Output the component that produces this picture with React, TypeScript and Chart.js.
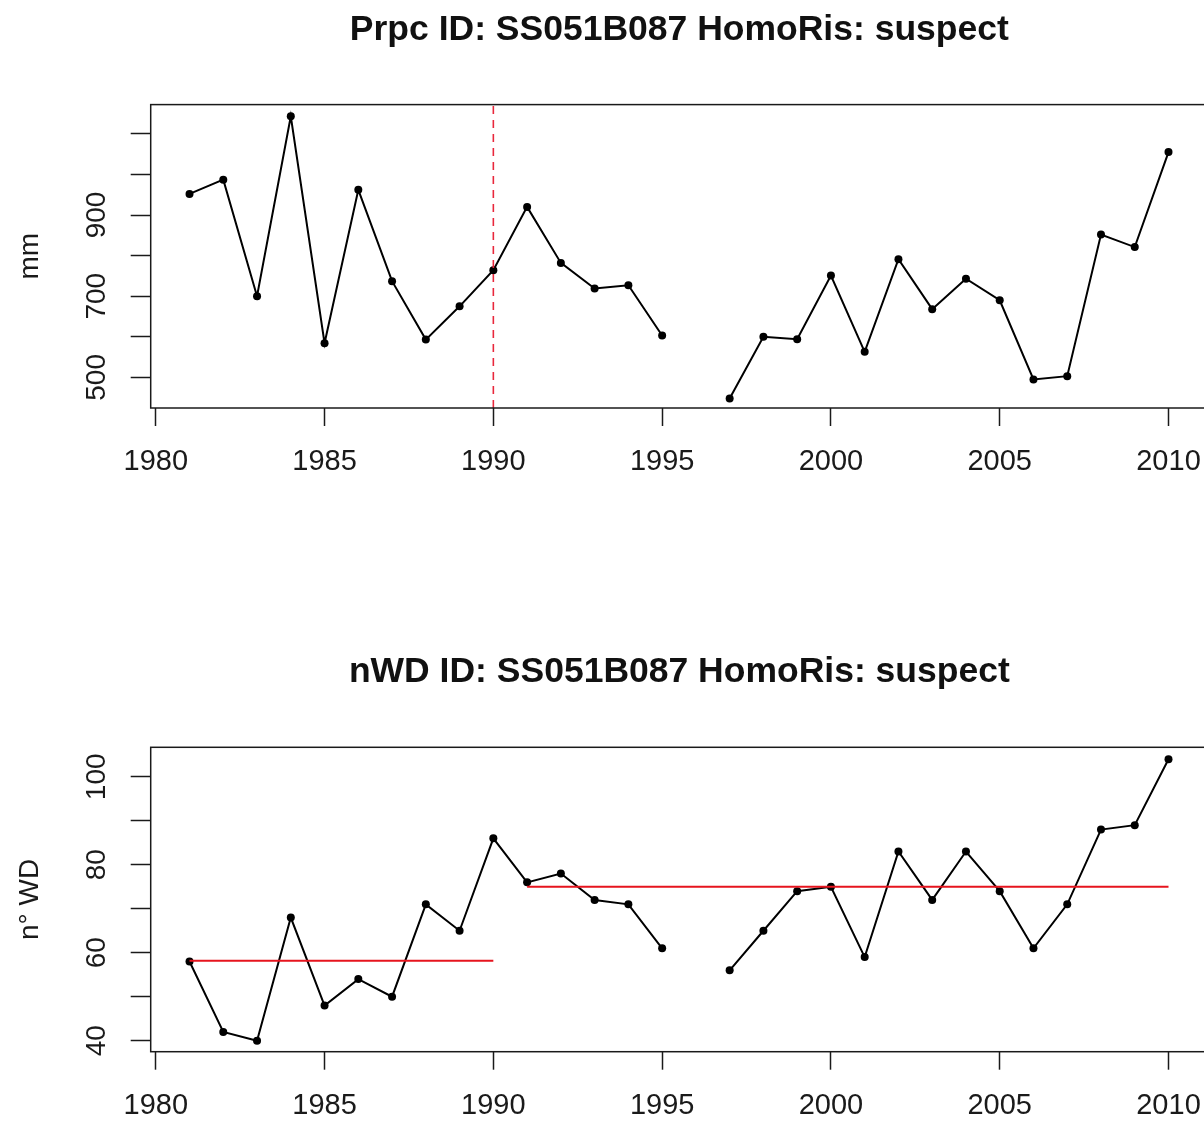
import React, { useEffect, useRef } from 'react';
import { Chart, registerables } from 'chart.js';

Chart.register(...registerables);

// ---------- data ----------
const years = [
  1981, 1982, 1983, 1984, 1985, 1986, 1987, 1988, 1989, 1990,
  1991, 1992, 1993, 1994, 1995, 1996, 1997, 1998, 1999, 2000,
  2001, 2002, 2003, 2004, 2005, 2006, 2007, 2008, 2009, 2010,
];
const prpcValues: (number | null)[] = [
  952, 987, 700, 1143, 584, 962, 737, 593, 675, 764,
  920, 782, 719, 727, 603, null, 448, 600, 594, 751,
  563, 791, 668, 743, 690, 495, 503, 852, 821, 1055,
];
const nwdValues: (number | null)[] = [
  58, 42, 40, 68, 48, 54, 50, 71, 65, 86,
  76, 78, 72, 71, 61, null, 56, 65, 74, 75,
  59, 83, 72, 83, 74, 61, 71, 88, 89, 104,
];
const xTicks = [1980, 1985, 1990, 1995, 2000, 2005, 2010];
const prpcYTicks = [500, 600, 700, 800, 900, 1000, 1100];
const prpcYLabels = [500, 700, 900];
const nwdYTicks = [40, 50, 60, 70, 80, 90, 100];
const nwdYLabels = [40, 60, 80, 100];
const breakYears = [1990];
const segmentStarts = [1981, 1991];
const segmentEnds = [1990, 2010];
const segmentLevels = [58.2, 75];

const FONT = '"Liberation Sans", Arial, Helvetica, sans-serif';
const INK = '#1a1a1a';

const rFrame = {
  id: 'rFrame',
  afterDraw(chart: any, _args: any, opts: any) {
    const { ctx, chartArea: a } = chart;
    ctx.save();
    ctx.strokeStyle = INK;
    ctx.lineWidth = 1.5;
    ctx.strokeRect(a.left, a.top, a.right - a.left, a.bottom - a.top);
    const ys = chart.scales.y;
    ctx.fillStyle = INK;
    ctx.font = `28px ${FONT}`;
    ctx.textAlign = 'center';
    ctx.textBaseline = 'middle';
    for (const v of opts.labels as number[]) {
      const py = ys.getPixelForValue(v);
      ctx.save();
      ctx.translate(97, py);
      ctx.rotate(-Math.PI / 2);
      ctx.fillText(String(v), 0, 0);
      ctx.restore();
    }
    ctx.save();
    ctx.translate(30, (a.top + a.bottom) / 2);
    ctx.rotate(-Math.PI / 2);
    ctx.fillText(opts.yTitle, 0, 0);
    ctx.restore();
    ctx.restore();
  },
};

type Params = {
  height: number;
  title: string;
  padTop: number;
  padBottom: number;
  xScaleHeight: number;
  yMin: number;
  yMax: number;
  yTicks: number[];
  yLabels: number[];
  yTitle: string;
  values: (number | null)[];
  extra: any[];
};

function makeConfig(p: Params): any {
  const points = years.map((yr, i) => ({ x: yr, y: p.values[i] }));
  return {
    type: 'line',
    data: {
      datasets: [
        ...p.extra,
        {
          data: points,
          borderColor: '#000',
          backgroundColor: '#000',
          borderWidth: 2,
          pointRadius: 4,
          pointBorderWidth: 0,
          pointBackgroundColor: '#000',
          spanGaps: false,
          tension: 0,
        },
      ],
    },
    options: {
      animation: false,
      responsive: false,
      maintainAspectRatio: false,
      devicePixelRatio: 1,
      layout: { padding: 0, autoPadding: false },
      plugins: {
        legend: { display: false },
        tooltip: { enabled: false },
        title: {
          display: true,
          text: p.title,
          fullSize: false,
          color: '#111',
          font: { family: FONT, size: 35.5, weight: 'bold' },
          padding: { top: p.padTop, bottom: p.padBottom },
        },
        rFrame: { labels: p.yLabels, yTitle: p.yTitle },
      },
      scales: {
        x: {
          type: 'linear',
          min: 1979.85,
          max: 2011.17,
          afterBuildTicks: (s: any) => {
            s.ticks = xTicks.map((v) => ({ value: v }));
          },
          afterFit: (s: any) => {
            s.height = p.xScaleHeight;
            s.paddingLeft = 0;
            s.paddingRight = 0;
          },
          border: { display: false },
          grid: {
            display: true,
            drawOnChartArea: false,
            drawTicks: true,
            tickLength: 18,
            tickColor: INK,
            tickWidth: 1.5,
            color: INK,
          },
          ticks: {
            color: INK,
            padding: 19,
            maxRotation: 0,
            autoSkip: false,
            font: { family: FONT, size: 29 },
            callback: (v: any) => String(v),
          },
        },
        y: {
          type: 'linear',
          min: p.yMin,
          max: p.yMax,
          afterBuildTicks: (s: any) => {
            s.ticks = p.yTicks.map((v) => ({ value: v }));
          },
          afterFit: (s: any) => {
            s.width = 150.7;
            s.paddingTop = 0;
            s.paddingBottom = 0;
          },
          border: { display: false },
          grid: {
            display: true,
            drawOnChartArea: false,
            drawTicks: true,
            tickLength: 20,
            tickColor: INK,
            tickWidth: 1.5,
            color: INK,
          },
          ticks: { display: false },
        },
      },
    },
    plugins: [rFrame],
  };
}

function ChartBox({ params, top }: { params: Params; top: number }) {
  const ref = useRef<HTMLCanvasElement | null>(null);
  useEffect(() => {
    if (!ref.current) return;
    const chart = new Chart(ref.current, makeConfig(params));
    return () => chart.destroy();
  }, []);
  return (
    <canvas
      ref={ref}
      width={1208}
      height={params.height}
      style={{ position: 'absolute', left: 0, top, width: 1208, height: params.height }}
    />
  );
}

export default function App() {
  const prpcMin = 424.5;
  const prpcMax = 1172;
  const breakDatasets = breakYears.map((yr) => ({
    data: [
      { x: yr, y: prpcMin },
      { x: yr, y: prpcMax },
    ],
    borderColor: 'rgb(232,40,60)',
    borderWidth: 1.6,
    borderDash: [8, 6],
    pointRadius: 0,
  }));
  const segmentPoints: any[] = [];
  segmentStarts.forEach((s, i) => {
    if (i > 0) segmentPoints.push({ x: (segmentEnds[i - 1] + s) / 2, y: null });
    segmentPoints.push({ x: s, y: segmentLevels[i] });
    segmentPoints.push({ x: segmentEnds[i], y: segmentLevels[i] });
  });
  const segmentDataset = {
    data: segmentPoints,
    borderColor: 'rgb(230,20,30)',
    borderWidth: 2,
    pointRadius: 0,
    spanGaps: false,
  };

  const topParams: Params = {
    height: 560,
    title: 'Prpc ID: SS051B087 HomoRis: suspect',
    padTop: 9,
    padBottom: 53,
    xScaleHeight: 152,
    yMin: prpcMin,
    yMax: prpcMax,
    yTicks: prpcYTicks,
    yLabels: prpcYLabels,
    yTitle: 'mm',
    values: prpcValues,
    extra: breakDatasets,
  };
  const bottomParams: Params = {
    height: 564,
    title: 'nWD ID: SS051B087 HomoRis: suspect',
    padTop: 91,
    padBottom: 53.7,
    xScaleHeight: 72.3,
    yMin: 37.5,
    yMax: 106.7,
    yTicks: nwdYTicks,
    yLabels: nwdYLabels,
    yTitle: 'n° WD',
    values: nwdValues,
    extra: [segmentDataset],
  };

  return (
    <div
      style={{
        position: 'absolute',
        left: 0,
        top: 0,
        width: 1204,
        height: 1124,
        overflow: 'hidden',
        background: '#fff',
      }}
    >
      <ChartBox params={topParams} top={0} />
      <ChartBox params={bottomParams} top={560} />
    </div>
  );
}
